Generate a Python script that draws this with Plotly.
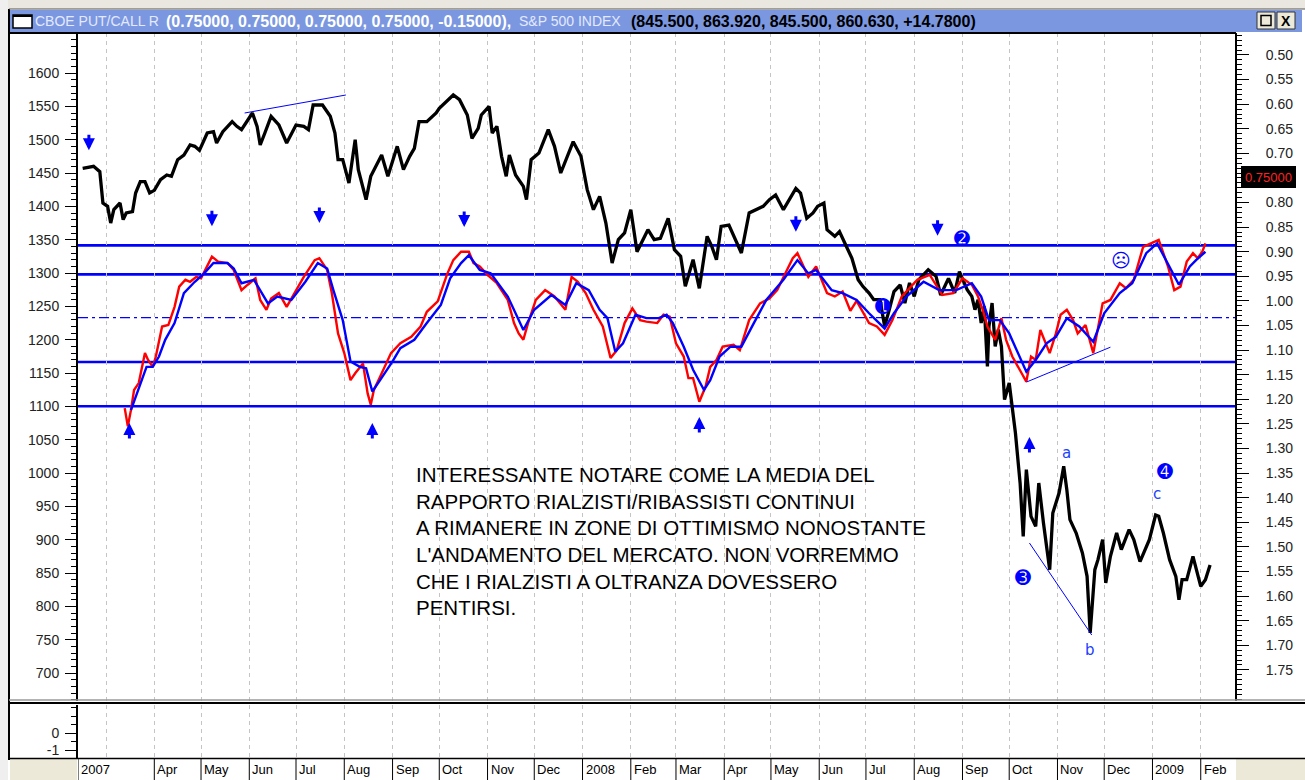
import plotly.graph_objects as go

# ---------------- data ----------------
sp_dates = [
 "2007-02-14","2007-02-21","2007-02-25","2007-02-27","2007-03-02","2007-03-04","2007-03-06","2007-03-10","2007-03-12","2007-03-14",
 "2007-03-18","2007-03-20","2007-03-23","2007-03-26","2007-03-29","2007-04-01","2007-04-05","2007-04-09","2007-04-12","2007-04-16",
 "2007-04-20","2007-04-24","2007-04-27","2007-04-30","2007-05-05","2007-05-09","2007-05-11","2007-05-15","2007-05-21","2007-05-24",
 "2007-05-27","2007-06-03","2007-06-06","2007-06-08","2007-06-11","2007-06-15","2007-06-20","2007-06-25","2007-07-01","2007-07-06",
 "2007-07-09","2007-07-12","2007-07-18","2007-07-23","2007-07-26","2007-07-28","2007-07-31","2007-08-04","2007-08-08","2007-08-10",
 "2007-08-15","2007-08-18","2007-08-25","2007-08-29","2007-09-04","2007-09-08","2007-09-12","2007-09-15","2007-09-18","2007-09-23",
 "2007-09-29","2007-10-01","2007-10-10","2007-10-14","2007-10-19","2007-10-22","2007-10-26","2007-10-28","2007-11-02","2007-11-04",
 "2007-11-07","2007-11-10","2007-11-13","2007-11-15","2007-11-19","2007-11-24","2007-11-26","2007-11-29","2007-12-04","2007-12-10",
 "2007-12-14","2007-12-18","2007-12-26","2007-12-31","2008-01-04","2008-01-08","2008-01-12","2008-01-16","2008-01-20","2008-01-24",
 "2008-01-28","2008-02-01","2008-02-05","2008-02-12","2008-02-16","2008-02-20","2008-02-25","2008-02-29","2008-03-04","2008-03-07",
 "2008-03-12","2008-03-16","2008-03-21","2008-03-24","2008-03-27","2008-03-30","2008-04-04","2008-04-08","2008-04-12","2008-04-17",
 "2008-04-21","2008-04-26","2008-04-30","2008-05-04","2008-05-09","2008-05-13","2008-05-17","2008-05-20","2008-05-24","2008-05-28",
 "2008-05-31","2008-06-04","2008-06-06","2008-06-11","2008-06-14","2008-06-18","2008-06-22","2008-06-26","2008-06-29","2008-07-03",
 "2008-07-06","2008-07-10","2008-07-13","2008-07-16","2008-07-19","2008-07-23","2008-07-26","2008-07-29","2008-08-01","2008-08-04",
 "2008-08-10","2008-08-15","2008-08-18","2008-08-23","2008-08-27","2008-08-30","2008-09-04","2008-09-07","2008-09-09","2008-09-11",
 "2008-09-13","2008-09-15","2008-09-17","2008-09-18","2008-09-20","2008-09-22","2008-09-24","2008-09-26","2008-09-28","2008-10-01",
 "2008-10-03","2008-10-05","2008-10-08","2008-10-10","2008-10-12","2008-10-15","2008-10-18","2008-10-20","2008-10-23","2008-10-27",
 "2008-10-29","2008-11-02","2008-11-05","2008-11-07","2008-11-09","2008-11-13","2008-11-17","2008-11-20","2008-11-22","2008-11-25",
 "2008-11-27","2008-11-30","2008-12-02","2008-12-05","2008-12-09","2008-12-12","2008-12-17","2008-12-20","2008-12-24","2008-12-30",
 "2009-01-03","2009-01-05","2009-01-08","2009-01-12","2009-01-16","2009-01-18","2009-01-20","2009-01-23","2009-01-27","2009-02-01",
 "2009-02-04","2009-02-07"]
sp_values = [
 1457,1460,1452,1405,1400,1375,1395,1405,1380,1390,
 1392,1420,1437,1437,1420,1424,1440,1447,1445,1470,
 1477,1492,1490,1484,1510,1512,1495,1512,1527,1520,
 1515,1540,1520,1492,1510,1535,1522,1495,1522,1520,
 1515,1552,1552,1535,1510,1470,1470,1435,1500,1455,
 1410,1445,1477,1445,1490,1455,1475,1487,1527,1527,
 1540,1547,1567,1560,1537,1502,1517,1537,1550,1510,
 1520,1475,1445,1477,1447,1430,1410,1470,1480,1515,
 1490,1450,1497,1475,1425,1395,1415,1375,1315,1350,
 1360,1395,1332,1365,1350,1352,1382,1335,1325,1280,
 1320,1277,1355,1340,1320,1370,1372,1350,1330,1390,
 1395,1400,1410,1417,1395,1410,1427,1420,1382,1390,
 1400,1405,1365,1355,1362,1342,1322,1290,1280,1270,
 1260,1260,1220,1245,1272,1282,1255,1285,1265,1290,
 1305,1295,1267,1292,1270,1302,1275,1265,1245,1260,
 1225,1250,1160,1220,1255,1190,1215,1190,1110,1135,
 1100,1060,985,905,1005,935,920,985,925,855,
 940,970,1010,975,930,910,880,845,760,855,
 870,900,835,875,910,885,915,900,867,900,
 937,935,910,870,845,810,840,840,875,830,
 840,862]

pc_dates = [
 "2007-03-13","2007-03-15","2007-03-17","2007-03-19","2007-03-22","2007-03-26","2007-03-28","2007-03-31","2007-04-02","2007-04-06",
 "2007-04-10","2007-04-14","2007-04-17","2007-04-21","2007-04-24","2007-04-28","2007-05-01","2007-05-05","2007-05-08","2007-05-12",
 "2007-05-18","2007-05-22","2007-05-27","2007-05-31","2007-06-05","2007-06-08","2007-06-12","2007-06-15","2007-06-20","2007-06-25",
 "2007-06-30","2007-07-06","2007-07-13","2007-07-16","2007-07-21","2007-07-24","2007-07-28","2007-08-01","2007-08-05","2007-08-08",
 "2007-08-13","2007-08-16","2007-08-18","2007-08-20","2007-08-24","2007-08-31","2007-09-06","2007-09-13","2007-09-19","2007-09-23",
 "2007-09-30","2007-10-06","2007-10-10","2007-10-15","2007-10-20","2007-10-23","2007-10-27","2007-11-01","2007-11-07","2007-11-14",
 "2007-11-18","2007-11-21","2007-11-24","2007-11-27","2007-12-02","2007-12-08","2007-12-14","2007-12-21","2007-12-25","2007-12-29",
 "2008-01-03","2008-01-08","2008-01-14","2008-01-19","2008-01-23","2008-01-28","2008-02-02","2008-02-07","2008-02-11","2008-02-18",
 "2008-02-22","2008-02-26","2008-03-01","2008-03-06","2008-03-09","2008-03-12","2008-03-16","2008-03-20","2008-03-23","2008-03-27",
 "2008-03-31","2008-04-07","2008-04-11","2008-04-17","2008-04-24","2008-04-30","2008-05-05","2008-05-11","2008-05-15","2008-05-18",
 "2008-05-22","2008-05-25","2008-05-30","2008-06-06","2008-06-11","2008-06-16","2008-06-21","2008-06-25","2008-07-03","2008-07-08",
 "2008-07-13","2008-07-18","2008-07-24","2008-07-29","2008-08-03","2008-08-11","2008-08-19","2008-08-26","2008-09-01","2008-09-07",
 "2008-09-11","2008-09-14","2008-09-17","2008-09-22","2008-09-26","2008-09-29","2008-10-03","2008-10-09","2008-10-12","2008-10-15",
 "2008-10-18","2008-10-21","2008-10-27","2008-10-31","2008-11-03","2008-11-07","2008-11-11","2008-11-14","2008-11-19","2008-11-24",
 "2008-11-30","2008-12-05","2008-12-11","2008-12-15","2008-12-20","2008-12-26","2008-12-31","2009-01-05","2009-01-11","2009-01-15",
 "2009-01-19","2009-01-23","2009-01-27","2009-01-30","2009-02-02","2009-02-04"]
pc_values = [
 1.218,1.255,1.222,1.181,1.167,1.106,1.120,1.134,1.113,1.052,
 1.049,1.012,0.971,0.957,0.961,0.951,0.954,0.930,0.910,0.920,
 0.923,0.937,0.978,0.967,0.954,0.998,1.018,0.995,0.984,1.012,
 0.984,0.951,0.917,0.913,0.937,0.984,1.066,1.106,1.161,1.147,
 1.127,1.188,1.211,1.181,1.154,1.106,1.086,1.073,1.052,1.022,
 1.001,0.946,0.917,0.900,0.900,0.923,0.930,0.947,0.964,0.998,
 1.045,1.066,1.079,1.045,0.998,0.978,0.991,1.018,0.951,0.961,
 0.984,1.018,1.052,1.116,1.100,1.045,1.015,1.039,1.042,1.045,
 1.028,1.032,1.086,1.113,1.157,1.157,1.205,1.174,1.134,1.120,
 1.093,1.089,1.100,1.039,1.005,0.995,0.978,0.937,0.913,0.903,
 0.930,0.951,0.930,0.984,0.991,0.981,1.020,1.000,1.045,1.052,
 1.069,1.039,0.991,0.974,0.957,0.947,0.988,0.984,0.954,0.967,
 0.991,1.018,1.052,1.079,1.035,1.079,1.113,1.147,1.164,1.113,
 1.120,1.059,1.106,1.066,1.028,1.018,1.039,1.066,1.049,1.106,
 1.005,0.998,0.964,0.974,0.957,0.890,0.883,0.876,0.930,0.978,
 0.971,0.920,0.903,0.913,0.900,0.883]

avg_dates = [
 "2007-03-17","2007-03-21","2007-03-27","2007-03-31","2007-04-04","2007-04-08","2007-04-14","2007-04-20","2007-04-27","2007-05-03",
 "2007-05-09","2007-05-18","2007-05-22","2007-05-27","2007-06-04","2007-06-13","2007-06-19","2007-06-28","2007-07-07","2007-07-15",
 "2007-07-21","2007-07-25","2007-07-31","2007-08-05","2007-08-11","2007-08-15","2007-08-19","2007-08-24","2007-09-01","2007-09-06",
 "2007-09-15","2007-09-23","2007-10-02","2007-10-08","2007-10-15","2007-10-20","2007-10-27","2007-11-03","2007-11-14","2007-11-24",
 "2007-12-01","2007-12-12","2007-12-21","2007-12-28","2008-01-05","2008-01-12","2008-01-17","2008-01-22","2008-01-27","2008-02-04",
 "2008-02-11","2008-02-19","2008-02-24","2008-02-28","2008-03-06","2008-03-12","2008-03-19","2008-03-23","2008-03-29","2008-04-05",
 "2008-04-12","2008-04-20","2008-04-28","2008-05-09","2008-05-18","2008-05-25","2008-05-30","2008-06-09","2008-06-16","2008-06-25",
 "2008-07-03","2008-07-13","2008-07-19","2008-07-27","2008-08-07","2008-08-17","2008-08-28","2008-09-07","2008-09-13","2008-09-18",
 "2008-09-25","2008-10-01","2008-10-06","2008-10-12","2008-10-18","2008-10-25","2008-10-31","2008-11-07","2008-11-15","2008-11-24",
 "2008-12-01","2008-12-11","2008-12-19","2008-12-28","2009-01-04","2009-01-12","2009-01-18","2009-01-25","2009-01-29","2009-02-04"]
avg_values = [
 1.222,1.188,1.134,1.134,1.113,1.079,1.045,0.984,0.961,0.944,
 0.923,0.923,0.934,0.964,0.957,1.005,0.991,0.998,0.961,0.923,
 0.934,0.978,1.039,1.123,1.134,1.137,1.184,1.161,1.123,1.096,
 1.079,1.045,1.008,0.954,0.923,0.907,0.937,0.944,0.991,1.059,
 1.018,0.988,1.008,0.964,0.978,1.018,1.035,1.103,1.086,1.028,
 1.035,1.035,1.028,1.045,1.093,1.140,1.181,1.161,1.113,1.093,
 1.093,1.045,0.998,0.957,0.917,0.944,0.937,0.978,0.984,0.998,
 1.025,1.056,1.025,0.991,0.961,0.978,0.978,0.964,0.991,1.039,
 1.039,1.066,1.100,1.144,1.120,1.086,1.073,1.035,1.052,1.083,
 1.025,0.984,0.964,0.903,0.883,0.930,0.967,0.930,0.917,0.900]

assert len(sp_dates) == len(sp_values)
assert len(pc_dates) == len(pc_values)
assert len(avg_dates) == len(avg_values)

# horizontal put/call reference levels (right axis)
pc_levels = [0.887, 0.946, 1.124, 1.214]
pc_mid_level = 1.034

# left axis ticks / right axis ticks
sp_ticks = list(range(700, 1601, 50))
pc_ticks = [0.50, 0.55, 0.60, 0.65, 0.70, 0.75, 0.80, 0.85, 0.90, 0.95, 1.00, 1.05,
            1.10, 1.15, 1.20, 1.25, 1.30, 1.35, 1.40, 1.45, 1.50, 1.55, 1.60, 1.65, 1.70, 1.75]
pc_current = 0.75

# month labels of the time axis
month_label_dates = ["2007-02-11", "2007-04-01", "2007-05-01", "2007-06-01", "2007-07-01", "2007-08-01",
                     "2007-09-01", "2007-10-01", "2007-11-01", "2007-12-01", "2008-01-01", "2008-02-01",
                     "2008-03-01", "2008-04-01", "2008-05-01", "2008-06-01", "2008-07-01", "2008-08-01",
                     "2008-09-01", "2008-10-01", "2008-11-01", "2008-12-01", "2009-01-01", "2009-02-01"]
month_labels = ["2007", "Apr", "May", "Jun", "Jul", "Aug", "Sep", "Oct", "Nov", "Dec", "2008", "Feb",
                "Mar", "Apr", "May", "Jun", "Jul", "Aug", "Sep", "Oct", "Nov", "Dec", "2009", "Feb"]

# signal arrows (dates, S&P-axis level of the arrow tip)
down_arrow_dates = ["2007-02-18", "2007-05-08", "2007-07-16", "2007-10-17", "2008-05-17", "2008-08-16"]
down_arrow_levels = [1484, 1370, 1375, 1369, 1362, 1356]
up_arrow_dates = ["2007-03-16", "2007-08-19", "2008-03-16", "2008-10-14"]
up_arrow_levels = [1075, 1075, 1084, 1054]

# wave labels
wave_texts = ["➊", "➋", "➌", "➍", "☹", "a", "b", "c"]
wave_dates = ["2008-07-12", "2008-09-01", "2008-10-10", "2009-01-09", "2008-12-12", "2008-11-07", "2008-11-22", "2009-01-04"]
wave_levels = [1250, 1353, 844, 1003, 1320, 1030, 734, 968]

# trend lines
trend_sp = [(("2007-05-29", 1540), ("2007-08-02", 1567)),
            (("2008-10-14", 895), ("2008-11-23", 757))]
trend_pc = [(("2008-10-12", 1.165), ("2008-12-05", 1.094))]

note_text = ("INTERESSANTE NOTARE COME LA MEDIA DEL<br>"
             "RAPPORTO RIALZISTI/RIBASSISTI CONTINUI<br>"
             "A RIMANERE IN ZONE DI OTTIMISMO NONOSTANTE<br>"
             "L'ANDAMENTO DEL MERCATO. NON VORREMMO<br>"
             "CHE I RIALZISTI A OLTRANZA DOVESSERO<br>"
             "PENTIRSI.")

# ---------------- layout geometry ----------------
W, H = 1305, 780
ML, MR, MT, MB = 78, 70, 33, 22
PW, PH = W - ML - MR, H - MT - MB


def px(X):
    return (X - ML) / PW


def py(Y):
    return (H - MB - Y) / PH


X_RANGE = ["2007-02-11", "2009-02-23"]
FONT = "Liberation Sans, Arial, sans-serif"
BLUE = "#0000ff"

fig = go.Figure()

fig.add_trace(go.Scatter(x=pc_dates, y=pc_values, yaxis="y2", mode="lines",
                         line=dict(color="#ff0000", width=2.4), hoverinfo="skip"))
fig.add_trace(go.Scatter(x=avg_dates, y=avg_values, yaxis="y2", mode="lines",
                         line=dict(color=BLUE, width=2.4), hoverinfo="skip"))
fig.add_trace(go.Scatter(x=sp_dates, y=sp_values, yaxis="y", mode="lines",
                         line=dict(color="#000000", width=3.3), hoverinfo="skip"))
# invisible trace to create lower panel
fig.add_trace(go.Scatter(x=[X_RANGE[0]], y=[0], xaxis="x2", yaxis="y3", mode="markers",
                         marker=dict(opacity=0), hoverinfo="skip"))

grid = dict(showgrid=True, gridcolor="#c4c4c4", griddash="4px,4px", gridwidth=1,
            dtick="M1", tick0="2007-01-01", showticklabels=False, ticks="",
            zeroline=False, showline=False, type="date", range=X_RANGE, automargin=False)

tickfont = dict(family=FONT, size=14, color="#222222")
pc_ticktext = ["" if abs(v - pc_current) < 1e-9 else f"{v:.2f}" for v in pc_ticks]

fig.update_layout(
    template="none",
    width=W, height=H, margin=dict(l=ML, r=MR, t=MT, b=MB, pad=0, autoexpand=False),
    paper_bgcolor="white", plot_bgcolor="white", showlegend=False,
    xaxis=dict(domain=[0, 1], anchor="y", **grid),
    xaxis2=dict(domain=[0, 1], anchor="y3", matches="x", **grid),
    yaxis=dict(domain=[py(701), 1], range=[658, 1660], tickvals=sp_ticks,
               ticks="outside", ticklen=11, tickcolor="black", tickwidth=1,
               minor=dict(dtick=10, tick0=0, ticks="outside", ticklen=5, tickcolor="black", showgrid=False),
               showline=True, linecolor="black", linewidth=2, showgrid=False, zeroline=False,
               tickfont=tickfont, ticklabelstandoff=3, automargin=False),
    yaxis2=dict(overlaying="y", side="right", anchor="x", range=[1.8133, 0.4553],
                tickvals=pc_ticks, ticktext=pc_ticktext,
                ticks="outside", ticklen=12, tickcolor="black", tickwidth=1,
                minor=dict(dtick=0.01, tick0=0, ticks="outside", ticklen=5, tickcolor="black", showgrid=False),
                showline=True, linecolor="black", linewidth=2, showgrid=False, zeroline=False,
                tickfont=tickfont, ticklabelstandoff=14, automargin=False),
    yaxis3=dict(domain=[0, py(705)], anchor="x2", range=[-1.47, 1.647], tickvals=[-1, 0],
                ticktext=["-1", "0"], ticks="outside", ticklen=11, tickcolor="black",
                minor=dict(dtick=0.5, tick0=0, ticks="outside", ticklen=5, tickcolor="black", showgrid=False),
                showline=True, linecolor="black", linewidth=2, showgrid=False, zeroline=False,
                tickfont=tickfont, ticklabelstandoff=3, automargin=False),
    yaxis4=dict(overlaying="y3", side="right", anchor="x2", range=[-1.47, 1.647], tickvals=[-1, 0],
                ticktext=["-1", "0"], ticks="outside", ticklen=12, tickcolor="black",
                minor=dict(dtick=0.5, tick0=0, ticks="outside", ticklen=5, tickcolor="black", showgrid=False),
                showline=True, linecolor="black", linewidth=2, showgrid=False, zeroline=False,
                tickfont=tickfont, ticklabelstandoff=34, automargin=False),
)

shapes = []
for lv in pc_levels:
    shapes.append(dict(type="line", xref="paper", yref="y2", x0=0, x1=1, y0=lv, y1=lv,
                       line=dict(color=BLUE, width=2.6), layer="below"))
shapes.append(dict(type="line", xref="paper", yref="y2", x0=0, x1=1, y0=pc_mid_level, y1=pc_mid_level,
                   line=dict(color=BLUE, width=1.4, dash="10px,4px,3px,4px"), layer="below"))
for (a, b) in trend_sp:
    shapes.append(dict(type="line", xref="x", yref="y", x0=a[0], y0=a[1], x1=b[0], y1=b[1],
                       line=dict(color=BLUE, width=1)))
for (a, b) in trend_pc:
    shapes.append(dict(type="line", xref="x", yref="y2", x0=a[0], y0=a[1], x1=b[0], y1=b[1],
                       line=dict(color=BLUE, width=1)))

# ---- window chrome ----
chrome = [
    dict(x0=px(0), x1=px(W), y0=py(0), y1=py(9), fill="#e9e7df"),
    dict(x0=px(0), x1=px(8), y0=py(0), y1=py(H), fill="#efefef"),
    dict(x0=px(10), x1=px(1302), y0=py(10), y1=py(32), fill="#7b97df"),
    dict(x0=px(10), x1=px(77), y0=py(759), y1=py(H), fill="#ece9d8"),
    dict(x0=px(1236), x1=px(W), y0=py(759), y1=py(H), fill="#ece9d8"),
]
for c in chrome:
    shapes.append(dict(type="rect", xref="paper", yref="paper", x0=c["x0"], x1=c["x1"],
                       y0=c["y0"], y1=c["y1"], fillcolor=c["fill"], line=dict(width=0), layer="below"))
lines_px = [
    ((9, 9), (9, 760), "black", 2),
    ((9, 9), (1305, 9), "#555555", 1),
    ((9, 33), (1236, 33), "black", 2),
    ((9, 700), (1305, 700), "#9a9a9a", 1.5),
    ((9, 703), (1305, 703), "black", 2),
    ((9, 758.5), (1305, 758.5), "black", 1.5),
]
for (a, b, col, w) in lines_px:
    shapes.append(dict(type="line", xref="paper", yref="paper", x0=px(a[0]), y0=py(a[1]),
                       x1=px(b[0]), y1=py(b[1]), line=dict(color=col, width=w)))
shapes.append(dict(type="rect", xref="paper", yref="paper", x0=px(13), x1=px(32), y0=py(15), y1=py(28),
                   fillcolor="white", line=dict(color="black", width=1.5)))
shapes.append(dict(type="line", xref="paper", yref="paper", x0=px(13), x1=px(32), y0=py(16), y1=py(16),
                   line=dict(color="black", width=2)))
for (x0, x1) in [(1257, 1275), (1277, 1295)]:
    shapes.append(dict(type="rect", xref="paper", yref="paper", x0=px(x0), x1=px(x1), y0=py(12), y1=py(29),
                       fillcolor="#ece9d8", line=dict(color="#333333", width=1)))
shapes.append(dict(type="rect", xref="paper", yref="paper", x0=px(1261), x1=px(1271), y0=py(15.5), y1=py(25.5),
                   fillcolor="rgba(0,0,0,0)", line=dict(color="black", width=1.5)))
shapes.append(dict(type="rect", xref="paper", yref="paper", x0=px(1241), x1=px(1296), y0=py(166), y1=py(188),
                   fillcolor="black", line=dict(width=0)))
for d in month_label_dates:
    shapes.append(dict(type="line", xref="x", yref="paper", x0=d, x1=d, y0=py(759), y1=py(780),
                       line=dict(color="black", width=1)))

annotations = []
for d, t in zip(month_label_dates, month_labels):
    annotations.append(dict(x=d, y=py(769.5), xref="x", yref="paper", text=t, showarrow=False,
                            xanchor="left", yanchor="middle", xshift=1,
                            font=dict(family=FONT, size=13, color="black")))
arrow_style = dict(xref="x", yref="y", text="", showarrow=True, ax=0, arrowhead=2, arrowsize=0.8,
                   arrowwidth=3, arrowcolor=BLUE, standoff=0, startstandoff=0, font=dict(size=1))
for d, lv in zip(down_arrow_dates, down_arrow_levels):
    annotations.append(dict(x=d, y=lv, ay=-17, **arrow_style))
for d, lv in zip(up_arrow_dates, up_arrow_levels):
    annotations.append(dict(x=d, y=lv, ay=17, **arrow_style))
for t, d, lv in zip(wave_texts, wave_dates, wave_levels):
    big = t not in ("a", "b", "c")
    annotations.append(dict(x=d, y=lv, xref="x", yref="y", text=t, showarrow=False,
                            font=dict(family="DejaVu Sans, " + FONT, size=19 if big else 15,
                                      color=BLUE if big else "#2040ff")))
annotations.append(dict(x=px(414), y=py(461), xref="paper", yref="paper", text=note_text, showarrow=False,
                        xanchor="left", yanchor="top", align="left",
                        font=dict(family=FONT, size=20.5, color="black")))
title_parts = [
    (35, "CBOE PUT/CALL R", 14, "#e3e9ff", False),
    (166, "(0.75000, 0.75000, 0.75000, 0.75000, -0.15000),", 16, "#ffffff", True),
    (519, "S&amp;P 500 INDEX", 14, "#e3e9ff", False),
    (631, "(845.500, 863.920, 845.500, 860.630, +14.7800)", 16, "#000000", True),
]
for (xp, t, sz, col, bold) in title_parts:
    annotations.append(dict(x=px(xp), y=py(21), xref="paper", yref="paper",
                            text=f"<b>{t}</b>" if bold else t, showarrow=False,
                            xanchor="left", yanchor="middle", xshift=-2,
                            font=dict(family=FONT, size=sz, color=col)))
annotations.append(dict(x=px(1286), y=py(20.5), xref="paper", yref="paper", text="<b>X</b>", showarrow=False,
                        xanchor="center", yanchor="middle", font=dict(family=FONT, size=14, color="black")))
annotations.append(dict(x=px(1268.5), y=py(177), xref="paper", yref="paper", text=f"{pc_current:.5f}",
                        showarrow=False, xanchor="center", yanchor="middle",
                        font=dict(family=FONT, size=13, color="#ff2020")))

fig.update_layout(shapes=shapes, annotations=annotations)
# the page body has a default 8px margin; remove it so the figure fills the window exactly
fig.write_html("out.html", config={"displayModeBar": False},
               post_script="document.body.style.margin='0px';document.body.style.overflow='hidden';")
